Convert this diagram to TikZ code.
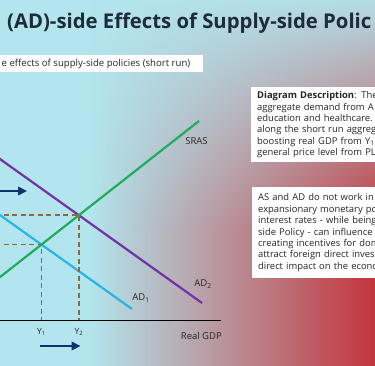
\documentclass[tikz,border=0pt]{standalone}
\usepackage{fontspec}
\setmainfont{Open Sans}
\usetikzlibrary{arrows.meta,fadings,intersections}

\definecolor{bgcyan}{HTML}{B3E5EE}
\definecolor{bgred}{HTML}{C2353C}
\definecolor{srasgreen}{HTML}{1DAD5B}
\definecolor{adpurple}{HTML}{7333A6}
\definecolor{adblue}{HTML}{2AB4E6}
\definecolor{guidebrown}{HTML}{8E6A3E}
\definecolor{shiftnavy}{HTML}{12306A}
\definecolor{titleink}{HTML}{1E2B3B}

\tikzset{
  curve/.style={line width=2.2pt},
  guide/.style={guidebrown, line width=1.5pt, dash pattern=on 5pt off 3.5pt},
  shiftarrow/.style={shiftnavy, line width=2.6pt, -{Triangle[length=9pt,width=8.5pt]}},
  lbl/.style={font=\fontsize{9.5}{11}\selectfont, text=black!85, inner sep=0pt},
  infobox/.style={fill=white, anchor=north west, align=left, text width=150pt,
    inner xsep=6pt, inner ysep=0pt, text=black!85, font=\fontsize{9.4}{11.4}\selectfont}
}

\begin{document}
\begin{tikzpicture}[x=1pt,y=-1pt]
\useasboundingbox (0,0) rectangle (375,366);

% background
\fill[bgcyan] (0,0) rectangle (375,366);
\shade[left color=bgcyan, right color=bgred] (90,0) rectangle (375,366);
\fill[bgcyan, path fading=south] (0,-10) rectangle (375,230);

\node[anchor=base west, inner sep=0pt, text=titleink,
  font=\fontsize{20.3}{24}\bfseries\selectfont] (title) at (7,29)
  {(AD)-side Effects of Supply-side Polic};
\node[fill=white, anchor=north west, minimum width=203pt, minimum height=17pt,
  inner sep=0pt] (subbox) at (0,55) {};
\node[anchor=west, inner sep=0pt, text=black!85, font=\fontsize{9.6}{11}\selectfont]
  (subtitle) at ([xshift=1.5pt]subbox.west) {e effects of supply-side policies (short run)};

% curves
\coordinate (srasA) at (-5,281);
\coordinate (srasB) at (199,121);
\coordinate (adtwoA) at (-5,155.5);
\coordinate (adtwoB) at (202,303);
\coordinate (adoneA) at (-5,211.5);
\coordinate (adoneB) at (132,309);
\coordinate (origin) at (-5,320.5);
\coordinate (axisend) at (221,320.5);

\draw[curve, adblue, name path=adone] (adoneA) -- (adoneB);
\draw[curve, adpurple, name path=adtwo] (adtwoA) -- (adtwoB);
\draw[curve, srasgreen, name path=sras] (srasA) -- (srasB);
\path[name intersections={of=sras and adone, by=e1}];
\path[name intersections={of=sras and adtwo, by=e2}];

\foreach \e in {1,2}
{
  \draw[guide] (e\e -| origin) -- (e\e) -- (e\e |- origin);
  \node[lbl, font=\fontsize{8.5}{9}\selectfont] (y\e) at ([yshift=-11.5pt]e\e |- origin) {Y\textsubscript{\e}};
}

\draw[line width=1.3pt] (origin) -- (axisend);

\node[lbl] (srasl) at (196.5,141.5) {SRAS};
\node[lbl] (adtwol) at (203,284) {AD\textsubscript{2}};
\node[lbl] (adonel) at (141,298) {AD\textsubscript{1}};
\node[lbl, anchor=east] (gdpl) at (222,335.5) {Real GDP};

% shifts
\coordinate (lshiftA) at (-2,191);
\coordinate (lshiftB) at (27,191);
\coordinate (bshiftA) at (40,346);
\coordinate (bshiftB) at (80.5,346);
\draw[shiftarrow] (lshiftA) -- (lshiftB);
\draw[shiftarrow] (bshiftA) -- (bshiftB);

% text boxes
\node[infobox, minimum height=75pt] (desc) at (251,87)
  {\textbf{Diagram Description}: The\\
   aggregate demand from A\\
   education and healthcare.\\
   along the short run aggreg\\
   boosting real GDP from Y\textsubscript{1}\\
   general price level from PL};
\node[infobox, minimum height=91pt] (note) at (252,187)
  {AS and AD do not work in i\\
   expansionary monetary po\\
   interest rates - while being\\
   side Policy - can influence a\\
   creating incentives for dom\\
   attract foreign direct inves\\
   direct impact on the econo};
\end{tikzpicture}
\end{document}
